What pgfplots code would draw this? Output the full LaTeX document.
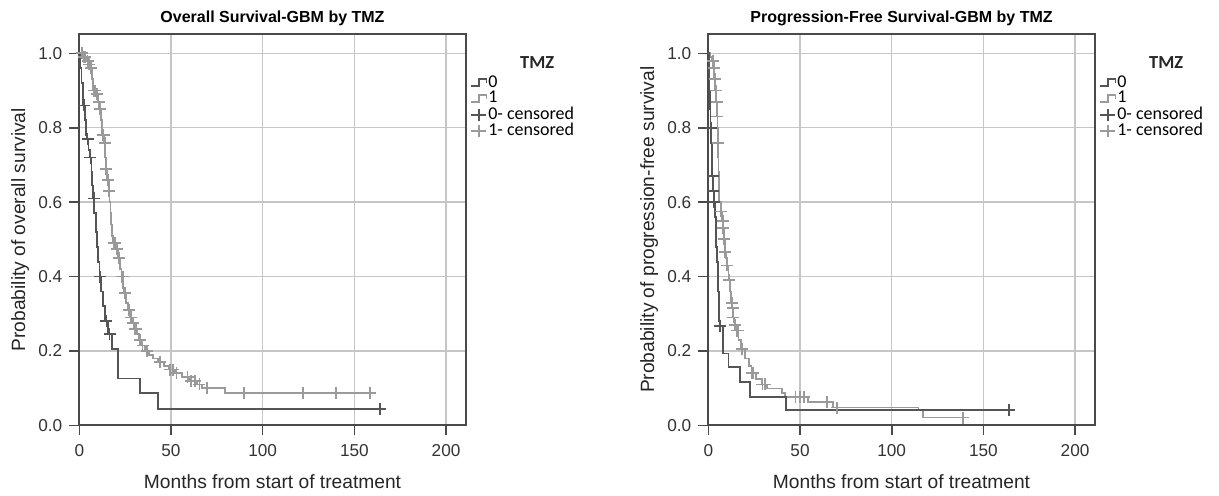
\documentclass[border=0pt]{standalone}
\usepackage{fontspec}
\setmainfont{Liberation Sans}
\newfontfamily\legfont{Carlito}
\usepackage{pgfplots}
\pgfplotsset{compat=1.18}
\definecolor{darkc}{HTML}{555555}
\definecolor{lightc}{HTML}{9A9A9A}
\definecolor{gridc}{HTML}{C6C6C6}
\definecolor{framec}{HTML}{4A4A4A}

\pgfplotsset{
  kmaxis/.style={
    scale only axis, width=193.2pt, height=195.7pt,
    xmin=0, xmax=210.7, ymin=0, ymax=1.052,
    xtick={0,50,100,150,200}, ytick={0,0.2,0.4,0.6,0.8,1.0},
    xtick pos=bottom, ytick pos=left,
    tick align=outside, major tick length=5pt,
    tick style={framec, line width=0.8pt},
    axis line style={framec, line width=0.9pt},
    grid=major, major grid style={gridc, line width=0.75pt},
    /pgf/number format/assume math mode=true,
    ticklabel style={font=\fontsize{8.6}{10}\selectfont, text=black!80},
    xticklabel style={yshift=-1.2pt},
    yticklabel style={/pgf/number format/.cd, fixed, fixed zerofill, precision=1},
    label style={font=\fontsize{9.6}{11}\selectfont, text=black!85},
    xlabel style={at={(axis description cs:0.5,-0.1615)}, anchor=base, inner sep=0pt},
    ylabel style={at={(axis description cs:-0.1405,0.5)}, anchor=base, inner sep=0pt},
    title style={at={(axis description cs:0.5,0.998)}, anchor=base, inner sep=0pt, font=\fontsize{8}{9}\selectfont\bfseries},
    xlabel={Months from start of treatment},
    clip mode=individual,
    legend style={at={(axis description cs:1.011,0.897)}, anchor=north west, draw=none, fill=none,
      font=\legfont\fontsize{9}{8}\selectfont, row sep=-0.5pt, inner sep=0pt,
      nodes={inner sep=0.5pt}},
    legend cell align=left,
  },
  stepleg/.style={legend image code/.code={\draw[##1] (0pt,-1.6pt) -- (3.8pt,-1.6pt) -- (3.8pt,2pt) -- (7.6pt,2pt) -- (7.6pt,0pt);}},
  censleg/.style={legend image code/.code={\draw[mark repeat=2,mark phase=2,##1] plot coordinates {(0pt,0pt) (3.8pt,0pt) (7.6pt,0pt)};}},
  km0/.style={const plot, darkc, line width=0.9pt, forget plot},
  km1/.style={const plot, lightc, line width=0.9pt, forget plot},
  cs0/.style={only marks, mark=+, mark size=3pt, darkc, mark options={line width=0.9pt}, forget plot},
  cs1/.style={only marks, mark=+, mark size=3pt, lightc, mark options={line width=0.9pt}, forget plot},
}

\begin{document}
\begin{tikzpicture}
\useasboundingbox (0,0) rectangle (609.5pt,248pt);
% ---------------- Overall survival ----------------
\begin{axis}[kmaxis, at={(39.65pt,35.3pt)}, anchor=south west,
  title={Overall Survival-GBM by TMZ},
  ylabel={Probability of overall survival}]
\addlegendimage{stepleg, darkc, line width=0.9pt}
\addlegendentry{0}
\addlegendimage{stepleg, lightc, line width=0.9pt}
\addlegendentry{1}
\addlegendimage{censleg, darkc, line width=0.9pt, mark=+, mark size=3pt}
\addlegendentry{0- censored}
\addlegendimage{censleg, lightc, line width=0.9pt, mark=+, mark size=3pt}
\addlegendentry{1- censored}

\addplot[km1] coordinates {
(0,1.0)(2,0.99)(4,0.98)(5,0.97)(6,0.96)(7,0.93)(7.5,0.90)(9,0.89)(10,0.87)(11,0.85)(12,0.82)
(12.5,0.78)(13.5,0.76)(14,0.72)(14.5,0.69)(15,0.66)(16,0.63)(16.5,0.60)(17,0.57)(17.5,0.54)
(18,0.51)(18.5,0.49)(20,0.475)(21,0.45)(22,0.42)(23,0.40)(24,0.37)(24.5,0.355)(25.5,0.33)
(26.5,0.31)(27.5,0.29)(29,0.275)(30,0.26)(31.5,0.245)(32.5,0.23)(34,0.215)(36,0.20)(38,0.19)
(40,0.18)(43,0.17)(46,0.16)(49,0.15)(52,0.14)(56,0.13)(60,0.12)(64,0.11)(67,0.10)(79.6,0.088)(161,0.088)};
\addplot[km0] coordinates {
(0,1.0)(0.5,0.96)(1.2,0.92)(1.8,0.88)(2.2,0.86)(3,0.82)(3.8,0.78)(4.2,0.77)(5,0.74)(5.8,0.72)
(6.6,0.68)(7.1,0.645)(7.5,0.61)(8.2,0.57)(9,0.52)(9.8,0.48)(10.4,0.44)(11,0.40)(12,0.36)(13,0.32)
(14.2,0.28)(15.8,0.245)(17.8,0.206)(21,0.126)(33,0.086)(42.7,0.044)(164,0.044)};
\addplot[cs1] coordinates {
(1.5,1.0)(2.5,0.99)(3,0.99)(4.5,0.98)(5.5,0.97)(6.5,0.96)(8,0.90)(8.5,0.90)(9.5,0.89)(10.5,0.87)
(11.5,0.85)(12.8,0.78)(13.2,0.78)(13.8,0.76)(14.7,0.69)(15.5,0.66)(16.2,0.63)(18.7,0.49)(19.2,0.49)
(19.6,0.49)(20.3,0.475)(20.7,0.475)(21.5,0.45)(23.3,0.40)(23.7,0.40)(24.7,0.355)(25,0.355)(27,0.31)
(28,0.29)(29.5,0.275)(30.5,0.26)(31,0.26)(33,0.23)(34.5,0.215)(37,0.20)(44,0.17)(49.5,0.15)(51,0.15)
(53,0.14)(59,0.13)(61,0.12)(63,0.12)(65.5,0.11)(69.5,0.10)(90,0.088)(122,0.088)(140,0.088)(158.5,0.088)};
\addplot[cs0] coordinates {
(2.6,0.86)(4.5,0.77)(6.1,0.72)(7.8,0.61)(11.5,0.40)(14.8,0.28)(16.5,0.245)(164,0.044)};
\node[font=\legfont\bfseries\fontsize{9.2}{9}\selectfont, text=black!85] at (axis description cs:1.185,0.926) {TMZ};
\end{axis}
% ---------------- Progression-free survival ----------------
\begin{axis}[kmaxis, at={(354.15pt,35.3pt)}, anchor=south west,
  title={Progression-Free Survival-GBM by TMZ},
  ylabel={Probability of progression-free survival}]
\addlegendimage{stepleg, darkc, line width=0.9pt}
\addlegendentry{0}
\addlegendimage{stepleg, lightc, line width=0.9pt}
\addlegendentry{1}
\addlegendimage{censleg, darkc, line width=0.9pt, mark=+, mark size=3pt}
\addlegendentry{0- censored}
\addlegendimage{censleg, lightc, line width=0.9pt, mark=+, mark size=3pt}
\addlegendentry{1- censored}

\addplot[km1] coordinates {
(0,1.0)(1,0.99)(2,0.98)(2.8,0.96)(3.2,0.93)(3.8,0.90)(4.3,0.87)(4.8,0.83)(5,0.80)(5.2,0.76)
(5.4,0.72)(5.6,0.68)(5.8,0.64)(6,0.60)(6.8,0.575)(7.5,0.55)(8,0.53)(8.5,0.50)(9,0.465)(9.5,0.45)
(10,0.43)(11,0.39)(12,0.36)(12.5,0.33)(13,0.315)(13.5,0.29)(14.3,0.27)(15,0.255)(16.5,0.23)
(18,0.206)(20,0.18)(22,0.16)(23.5,0.14)(26,0.125)(29,0.11)(32,0.099)(40,0.086)(42,0.077)
(54.5,0.063)(68,0.048)(114.6,0.04)(117,0.021)(140,0.021)};
\addplot[km0] coordinates {
(0,1.0)(0.3,0.95)(0.6,0.90)(0.9,0.85)(1.2,0.80)(1.5,0.76)(1.8,0.72)(2.1,0.67)(2.5,0.63)(3,0.60)
(3.6,0.56)(4,0.52)(4.4,0.48)(4.8,0.44)(5.1,0.40)(5.4,0.36)(5.7,0.32)(6,0.28)(6.3,0.268)(8,0.193)
(11,0.157)(17.4,0.117)(22.9,0.077)(42.5,0.041)(164,0.041)};
\addplot[cs1] coordinates {
(2.5,0.98)(3,0.96)(3.5,0.93)(4,0.90)(4.5,0.87)(5,0.83)(5.3,0.76)(7,0.575)(7.8,0.55)(8.2,0.53)
(8.7,0.50)(9.2,0.465)(10.3,0.43)(11.5,0.39)(12.7,0.33)(13.2,0.315)(13.7,0.29)(14.5,0.27)(15.5,0.255)
(16,0.255)(18.5,0.206)(23.8,0.14)(24.5,0.14)(29.5,0.11)(31,0.11)(47.5,0.077)(50,0.077)(52,0.077)
(64.7,0.063)(70,0.048)(139,0.021)};
\addplot[cs0] coordinates {
(1.3,0.80)(2.3,0.67)(2.8,0.63)(3.3,0.60)(6.2,0.268)(164,0.041)};
\node[font=\legfont\bfseries\fontsize{9.2}{9}\selectfont, text=black!85] at (axis description cs:1.185,0.926) {TMZ};
\end{axis}
\end{tikzpicture}
\end{document}
